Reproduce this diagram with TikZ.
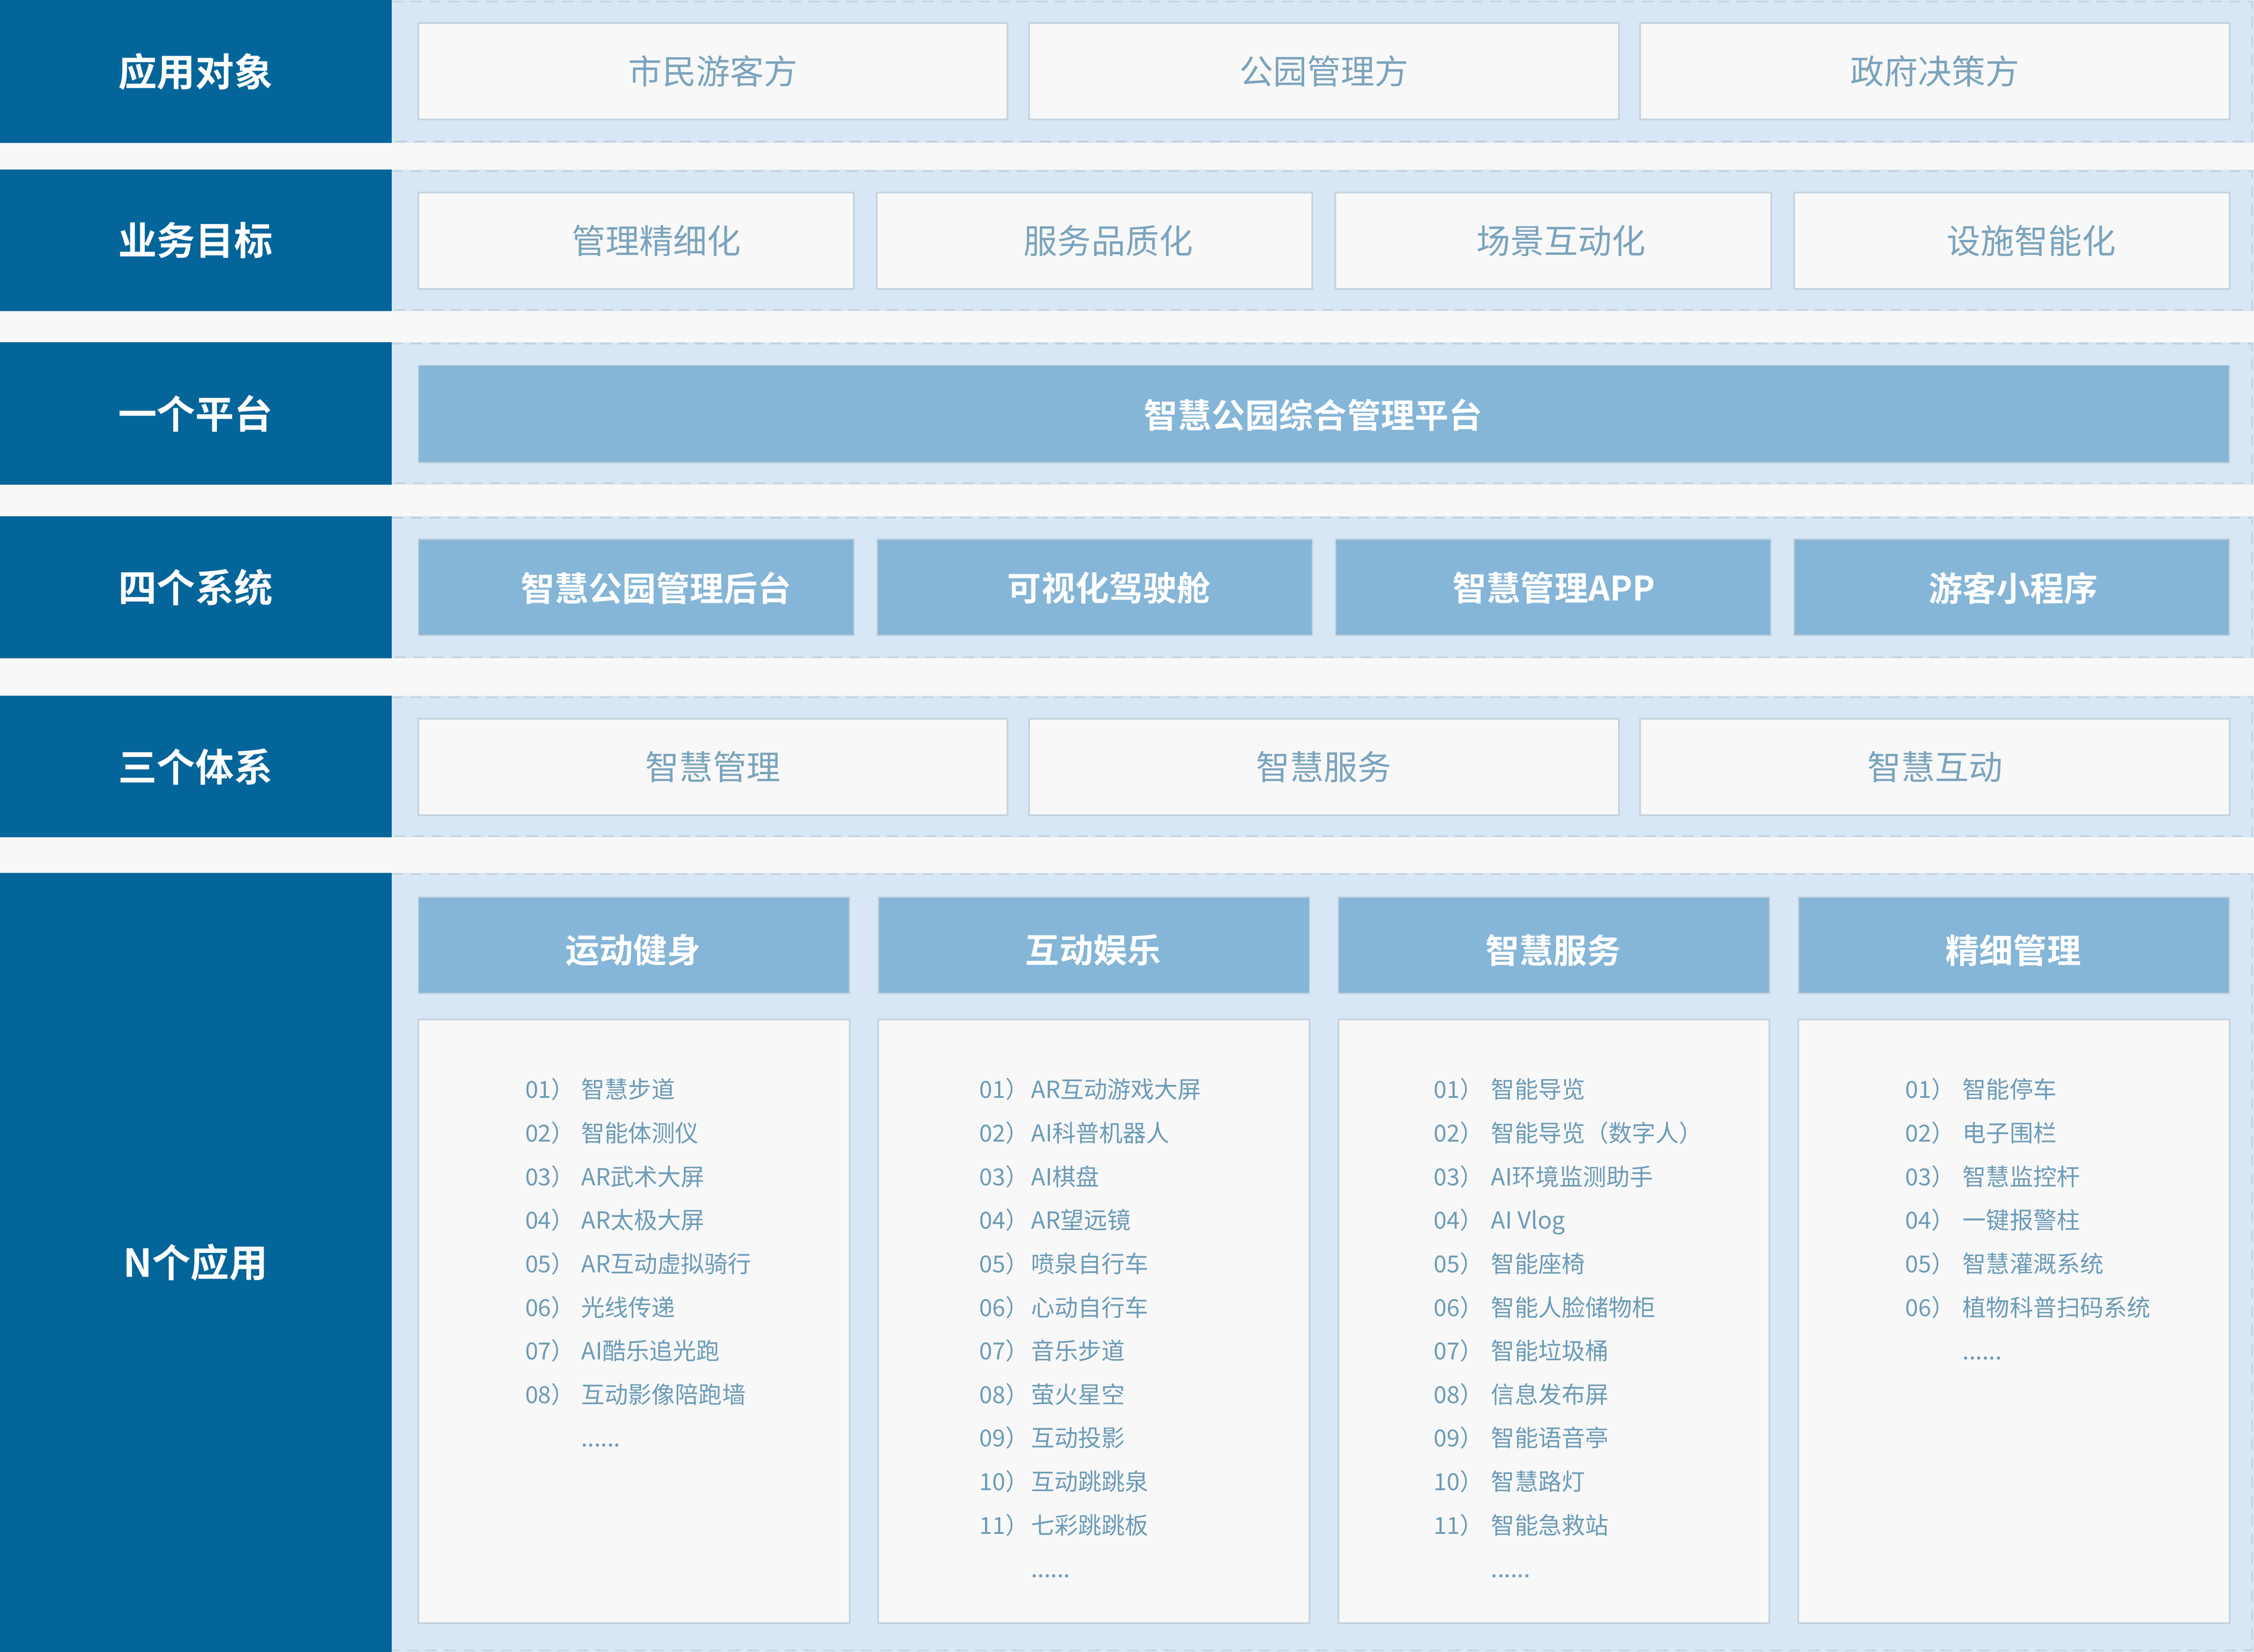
\documentclass[tikz,border=0pt]{standalone}
\usepackage{fontspec}
\newfontfamily\cjk{Noto Sans CJK SC}[BoldFont={Noto Sans CJK SC Bold}]
\definecolor{darkband}{HTML}{04659A}
\definecolor{lightband}{HTML}{D7E7F5}
\definecolor{midblue}{HTML}{85B5D7}
\definecolor{paper}{HTML}{F8F8F8}
\definecolor{boxline}{HTML}{C6D3DE}
\definecolor{dashline}{HTML}{C3CFDA}
\definecolor{txtblue}{HTML}{7BA3BC}
\definecolor{listblue}{HTML}{6C9BB7}
\tikzset{
  cell/.style 2 args={minimum width={#1*0.02cm}, minimum height={#2*0.02cm}, inner sep=0},
  whitebox/.style={draw=boxline, line width=0.7pt, fill=paper, text=txtblue, font=\cjk\fontsize{13.4}{16}\selectfont},
  bluebox/.style={draw=boxline, line width=0.5pt, fill=midblue, text=white, font=\cjk\bfseries\fontsize{13.4}{16}\selectfont},
  whitetext/.style={inner sep=0, text=txtblue, font=\cjk\fontsize{13.4}{16}\selectfont},
  bluetext/.style={inner sep=0, text=white, font=\cjk\bfseries\fontsize{13.4}{16}\selectfont},
  rowlabel/.style={text=white, font=\cjk\bfseries\fontsize{15.3}{18}\selectfont, inner sep=0},
  dashrule/.style={draw=dashline, line width=0.6pt, dash pattern=on 4.5pt off 3pt},
  listitem/.style={anchor=west, inner sep=0, text=listblue, font=\cjk\fontsize{9.3}{11}\selectfont, text height=7.5pt, text depth=1.9pt}
}
\begin{document}
\begin{tikzpicture}[x=0.02cm, y=-0.02cm, line join=round]
  \fill[paper] (0,0) rectangle (1568,1149);
  \useasboundingbox (0,0) rectangle (1568,1149);
  % bands
  \foreach \top/\bot/\name/\txt in {0/99.5/rowobj/应用对象, 118/216.5/rowgoal/业务目标, 238/337/rowplat/一个平台, 359/458/rowsys/四个系统, 484/582.5/rowfw/三个体系, 607/1149/rowapp/N个应用} {
    \fill[darkband] (0,\top) rectangle (272.5,\bot);
    \fill[lightband] (272.5,\top) rectangle (1568,\bot);
    \draw[dashrule] (272.5,\top+1) -- (1566.5,\top+1) -- (1566.5,\bot-1) -- (272.5,\bot-1);
    \node[rowlabel] (\name) at (136,{(\top+\bot)/2}) {\txt};
  }
  % row 1 and 2
  \foreach \x/\t [count=\i] in {496/市民游客方, 921/公园管理方, 1346/政府决策方}
    \node[whitebox, cell={410}{67}] (obj\i) at (\x,49.5) {\t};
  \foreach \x/\tx/\t [count=\i] in {442.5/456.5/管理精细化, 761.5/771/服务品质化, 1080.5/1086/场景互动化, 1399.5/1413/设施智能化} {
    \node[whitebox, cell={303}{67}] (goal\i) at (\x,167.5) {};
    \node[whitetext] (goaltxt\i) at (\tx,167.5) {\t};
  }
  % row 3 and 4
  \node[bluebox, cell={1260}{68}] (plat) at (921,288) {};
  \node[bluetext] (plattxt) at (913.5,288.5) {智慧公园综合管理平台};
  \foreach \x/\tx/\t [count=\i] in {442.5/456.5/智慧公园管理后台, 761.5/771.5/可视化驾驶舱, 1080.5/1081/智慧管理APP, 1399.5/1400.5/游客小程序} {
    \node[bluebox, cell={303}{67}] (sys\i) at (\x,408.5) {};
    \node[bluetext] (systxt\i) at (\tx,409) {\t};
  }
  % row 5
  \foreach \x/\t [count=\i] in {496/智慧管理, 921/智慧服务, 1346/智慧互动}
    \node[whitebox, cell={410}{67}] (fw\i) at (\x,533.5) {\t};
  % row 6
  \foreach \x/\t [count=\i] in {441/运动健身, 761/互动娱乐, 1081/智慧服务, 1401/精细管理} {
    \node[bluebox, cell={300}{67}] (head\i) at (\x,657.5) {};
    \node[bluetext] (headtxt\i) at (\x-0.5,661) {\t};
    \node[whitebox, cell={300}{420}] (list\i) at (\x,919) {};
  }
  \def\ly(#1){759+30.3*(#1-1)}
  \foreach \t [count=\i] in {智慧步道, 智能体测仪, AR武术大屏, AR太极大屏, AR互动虚拟骑行, 光线传递, AI酷乐追光跑, 互动影像陪跑墙} {
    \node[listitem] (sportn\i) at (365,{\ly(\i)}) {0\i）};
    \node[listitem] (sportt\i) at (404,{\ly(\i)}) {\t};
  }
  \node[listitem] (sportdots) at (404,{\ly(9)}) {......};
  \foreach \n/\t [count=\i] in {01/AR互动游戏大屏, 02/AI科普机器人, 03/AI棋盘, 04/AR望远镜, 05/喷泉自行车, 06/心动自行车, 07/音乐步道, 08/萤火星空, 09/互动投影, 10/互动跳跳泉, 11/七彩跳跳板} {
    \node[listitem] (funn\i) at (681,{\ly(\i)}) {\n）};
    \node[listitem] (funt\i) at (717,{\ly(\i)}) {\t};
  }
  \node[listitem] (fundots) at (717,{\ly(12)}) {......};
  \foreach \n/\t [count=\i] in {01/智能导览, 02/智能导览（数字人）, 03/AI环境监测助手, 04/AI Vlog, 05/智能座椅, 06/智能人脸储物柜, 07/智能垃圾桶, 08/信息发布屏, 09/智能语音亭, 10/智慧路灯, 11/智能急救站} {
    \node[listitem] (servn\i) at (997,{\ly(\i)}) {\n）};
    \node[listitem] (servt\i) at (1037,{\ly(\i)}) {\t};
  }
  \node[listitem] (servdots) at (1037,{\ly(12)}) {......};
  \foreach \t [count=\i] in {智能停车, 电子围栏, 智慧监控杆, 一键报警柱, 智慧灌溉系统, 植物科普扫码系统} {
    \node[listitem] (mgmtn\i) at (1325,{\ly(\i)}) {0\i）};
    \node[listitem] (mgmtt\i) at (1365,{\ly(\i)}) {\t};
  }
  \node[listitem] (mgmtdots) at (1365,{\ly(7)}) {......};
\end{tikzpicture}
\end{document}
